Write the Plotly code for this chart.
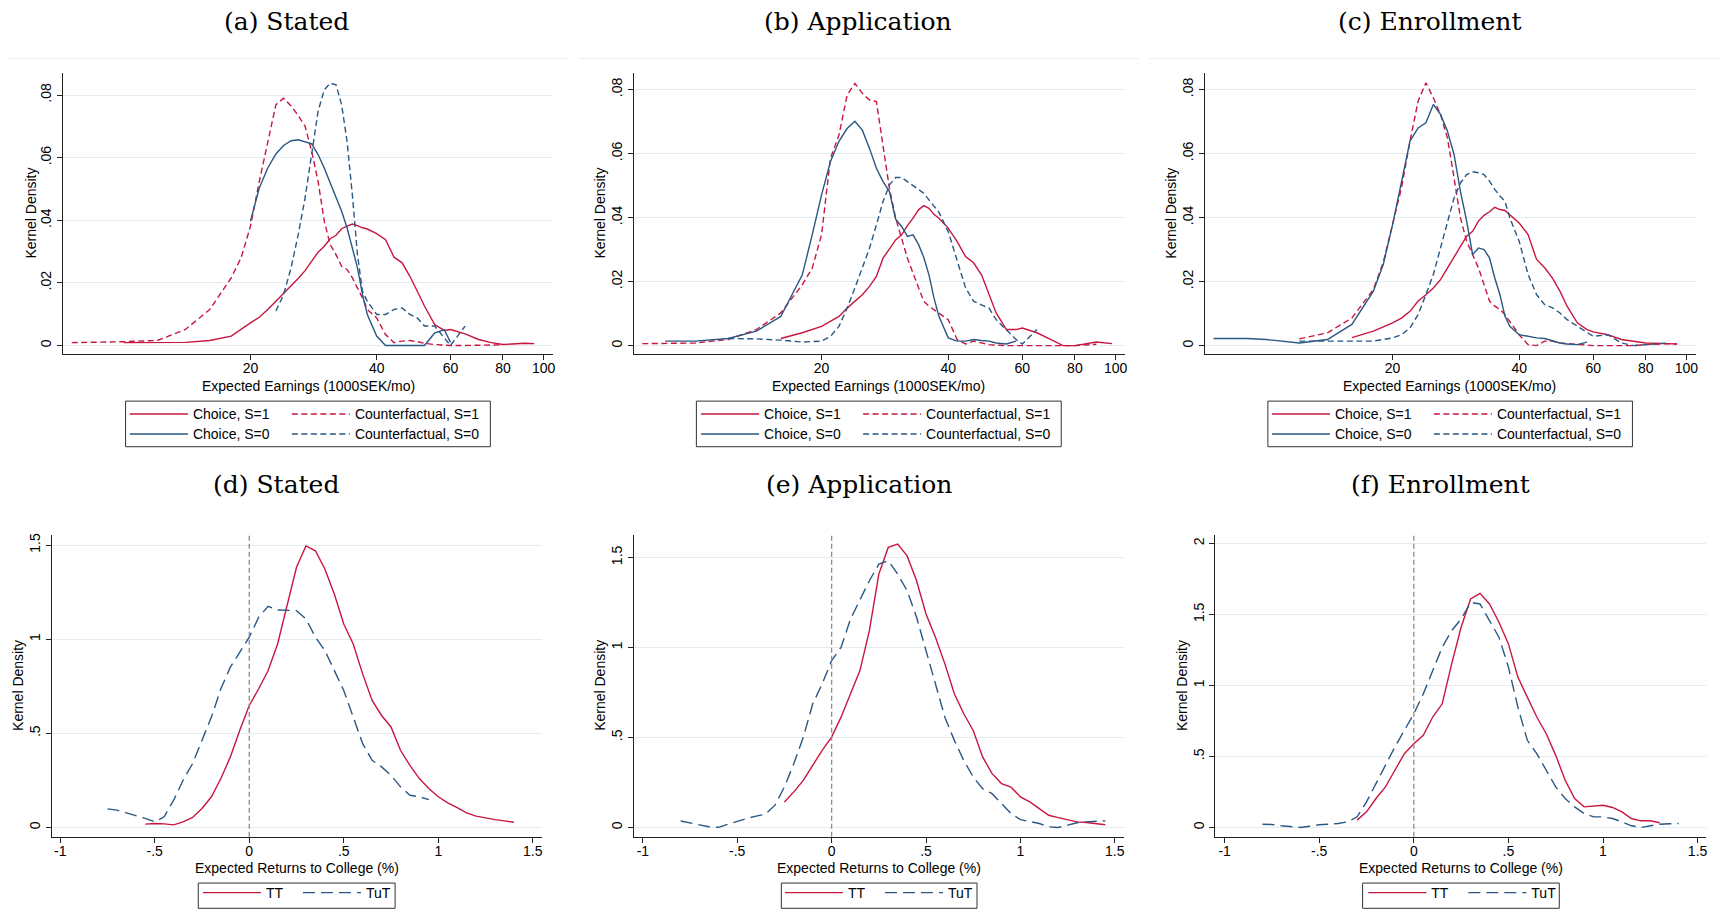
import plotly.graph_objects as go

W, H = 1723, 909
RED = "#C8163F"
BLUE = "#2A5783"
GRID = "#E4ECEE"
AXIS = "#222222"
SANS = "Liberation Sans, Arial, sans-serif"
SERIF = "DejaVu Serif, serif"
N = None

# ---------------- Top row: expected earnings (1000 SEK / month) ----------------
earn_grid = [7.5, 8.5, 9, 10, 12, 14, 16, 18, 19, 20,
             21, 22, 23, 24, 25, 26, 27, 28, 29, 30,
             31, 32, 33, 34, 35, 36, 37, 38,
             40, 42, 44, 46, 48, 50, 52, 55, 58, 60,
             62, 65, 70, 75, 80, 90, 95, 98]

# (a) Stated
a_choice_s1 = [N, N, N, .0009, .0009, .0010, .0016, .0030, N, .0072,
               .0090, .0115, .0141, .0168, .0190, .0214, .0239, .0269, .0298, .0317,
               .0341, .0352, .0373, .0381, .0388, .0383, .0376, .0372,
               .0357, .0338, .0282, .0264, .0221, .0173, .0126, .0067, .0048, .0051,
               N, .0037, .0019, .0009, .0003, .0007, .0006, N]
a_cf_s1 = [.0009, N, .0010, .0012, .0016, .0051, .0115, .0216, .0280, .0380,
           .0524, .0652, .0769, .0790, .0765, .0735, .0700, .0620, .0524, .0397,
           .0322, .0290, .0253, .0243, .0216, .0184, .0152, .0115,
           .0088, .0035, .0009, .0014, .0016, .0012, .0007, .0003, 0, 0,
           N, 0, 0, 0, .0002, N, N, N]
a_choice_s0 = [N, N, N, N, N, N, N, N, N, .0397,
               .0503, .0567, .0612, .0639, .0654, .0657, .0650, .0644, .0610, .0567,
               .0519, .0471, .0429, .0376, .0312, .0248, .0163, .0099,
               .0030, 0, 0, 0, 0, 0, 0, .0040, .0050, .0010,
               N, N, N, N, N, N, N, N]
a_cf_s0 = [N, N, N, N, N, N, N, N, N, N,
           N, N, .0110, .0163, .0248, .0354, .0471, .0620, .0748, .0817,
           .0838, .0833, .0769, .0652, .0482, .0290, .0173, .0141,
           .0099, .0099, .0115, .0120, .0099, .0088, .0062, .0062, .0024, 0,
           N, .0062, N, N, N, N, N, N]

# (b) Application
b_choice_s1 = [N, N, N, N, N, N, .0022, .0040, N, .0060,
               .0076, .0091, .0117, .0138, .0159, .0185, .0216, .0273, .0304, .0330,
               .0346, .0375, .0398, .0424, .0437, .0429, .0410, .0398,
               .0367, .0325, .0278, .0258, .0221, .0159, .0102, .0050, .0050, .0055,
               N, .0040, .0019, 0, 0, .0011, N, .0006]
b_cf_s1 = [.0006, N, .0006, .0008, .0019, .0050, .0102, .0190, .0242, .0346,
           .0585, .0658, .0782, .0819, .0788, .0767, .0762, .0626, .0491, .0398,
           .0336, .0273, .0226, .0180, .0138, .0123, .0112, .0102,
           .0081, .0019, .0005, .0014, .0008, .0003, N, 0, N, 0,
           N, 0, 0, 0, 0, .0004, N, N]
b_choice_s0 = [N, .0014, .0014, .0014, .0022, .0045, .0091, .0221, .0346, .0471,
               .0575, .0638, .0678, .0701, .0673, .0616, .0554, .0512, .0481, .0395,
               .0372, .0341, .0346, .0316, .0275, .0221, .0149, .0092,
               .0024, .0014, .0014, .0019, .0016, .0014, .0008, .0005, .0014, N,
               N, N, N, N, N, N, N, N]
b_cf_s0 = [N, N, N, N, .0022, .0021, .0017, .0011, N, .0014,
           .0029, .0060, .0117, .0180, .0242, .0304, .0377, .0450, .0502, .0525,
           .0525, .0512, .0502, .0489, .0476, .0455, .0434, .0417,
           .0356, .0263, .0180, .0138, .0128, .0117, .0081, .0050, .0019, .0005,
           .0024, .0050, N, N, N, N, N, N]

# (c) Enrollment
c_choice_s1 = [N, N, N, N, N, N, .0025, .0045, N, .0071,
               .0086, .0107, .0139, .0159, .0180, .0206, .0243, .0274, .0310, .0342,
               .0357, .0389, .0407, .0418, .0432, .0425, .0422, .0409,
               .0383, .0347, .0269, .0243, .0211, .0170, .0123, .0071, .0050, .0043,
               N, .0034, .0019, .0014, .0008, .0006, .0005, N]
c_cf_s1 = [N, N, N, N, .0021, .0040, .0086, .0175, .0260, .0380,
           .0493, .0639, .0764, .0821, .0774, .0722, .0649, .0524, .0399, .0326,
           .0284, .0243, .0191, .0139, .0123, .0113, .0097, .0076,
           .0034, .0003, 0, .0014, .0014, .0008, N, .0003, N, 0,
           N, 0, 0, 0, .0003, .0006, .0005, N]
c_choice_s0 = [.0022, N, .0022, .0019, .0008, .0019, .0066, .0170, .0253, .0378,
               .0508, .0639, .0680, .0696, .0753, .0722, .0670, .0597, .0482, .0389,
               .0284, .0305, .0300, .0274, .0211, .0159, .0092, .0060,
               .0034, .0029, .0024, .0022, .0014, .0008, .0005, .0003, .0011, N,
               N, N, N, N, N, N, N, N]
c_cf_s0 = [N, N, N, N, .0014, .0014, .0014, .0014, N, .0024,
           .0034, .0055, .0097, .0159, .0222, .0305, .0389, .0461, .0508, .0534,
           .0543, .0540, .0534, .0514, .0488, .0467, .0451, .0399,
           .0326, .0222, .0159, .0128, .0118, .0102, .0081, .0060, .0040, .0029,
           N, .0034, .0008, 0, .0003, .0008, N, N]

# ---------------- Bottom row: expected returns to college (%) ----------------
ret_grid = [-0.85, -0.8, -0.75, -0.7, -0.65, -0.6, -0.55, -0.5, -0.45, -0.4,
            -0.35, -0.3, -0.25, -0.2, -0.15, -0.1, -0.05, 0.0, 0.05, 0.1,
            0.15, 0.2, 0.25, 0.3, 0.35, 0.4, 0.45, 0.5, 0.55, 0.6,
            0.65, 0.7, 0.75, 0.8, 0.85, 0.9, 0.95, 1.0, 1.05, 1.1,
            1.15, 1.2, 1.25, 1.3, 1.35, 1.4, 1.45]

d_tt = [N, N, N, N, N, N, .018, .021, .019, .014,
        .030, .053, .101, .163, .260, .375, .516, .648, .737, .834,
        .975, 1.187, 1.382, 1.496, 1.470, 1.373, 1.240, 1.081, .975, .816,
        .675, .595, .534, .410, .330, .260, .207, .163, .131, .106,
        .078, .060, .049, .042, .035, .028, N]
d_tut = [N, N, .099, .092, .078, .065, .048, .030, .057, .145,
         .251, .339, .463, .587, .737, .852, .931, 1.011, 1.117, 1.175,
         1.155, 1.152, 1.152, 1.108, 1.011, .940, .834, .728, .587, .445,
         .357, .322, .277, .216, .171, .163, .148, N, N, N,
         N, N, N, N, N, N, N]
e_tt = [N, N, N, N, N, N, N, N, N, N,
        N, N, .142, .198, .262, .345, .429, .502, .613, .743,
        .872, 1.094, 1.408, 1.556, 1.574, 1.509, 1.371, 1.186, 1.057, .909,
        .743, .632, .539, .392, .299, .244, .225, .170, .142, .105,
        .068, .055, .044, .031, .028, .022, .015]
e_tut = [N, .036, .026, .013, .004, .001, .018, .031, .050, .063,
         .074, .124, .225, .355, .502, .687, .798, .927, 1.001, 1.158,
         1.260, 1.371, 1.463, 1.482, 1.408, 1.315, 1.168, .983, .798, .613,
         .484, .373, .281, .216, .188, .133, .078, .044, .031, .022,
         .004, 0, .013, .026, .031, .035, .037]
f_tt = [N, N, N, N, N, N, N, N, N, N,
        N, .052, .110, .204, .286, .403, .520, .590, .649, .778,
        .871, 1.152, 1.410, 1.609, 1.649, 1.574, 1.445, 1.293, 1.059, .918,
        .778, .660, .508, .333, .204, .145, .150, .157, .141, .110,
        .063, .047, .047, .033, N, N, N]
f_tut = [N, .023, .021, .012, .005, 0, .009, .019, .023, .028,
         .040, .075, .180, .309, .438, .567, .684, .801, .941, 1.105,
         1.269, 1.386, 1.468, 1.585, 1.574, 1.457, 1.340, 1.129, .848, .614,
         .520, .403, .286, .204, .145, .098, .075, .075, .063, .040,
         .012, 0, .009, .023, .026, .028, N]

# tick labels
earn_ticks = [20, 40, 60, 80, 100]
earn_ticktext = ["20", "40", "60", "80", "100"]
dens_ticks = [0, 0.02, 0.04, 0.06, 0.08]
dens_ticktext = ["0", ".02", ".04", ".06", ".08"]
ret_ticks = [-1, -0.5, 0, 0.5, 1, 1.5]
ret_ticktext = ["-1", "-.5", "0", ".5", "1", "1.5"]
rdens_ticks = [0, 0.5, 1, 1.5, 2]
rdens_ticktext = ["0", ".5", "1", "1.5", "2"]

top_names = ["Choice, S=1", "Counterfactual, S=1", "Choice, S=0", "Counterfactual, S=0"]
bot_names = ["TT", "TuT"]

# ---------------- layout geometry (pixels of the 1723x909 page) ----------------
TOP = [
    dict(curves=[a_choice_s1, a_cf_s1, a_choice_s0, a_cf_s0], title="(a) Stated",
         dom=(62.9, 554.1), xr=(0.8537, 2.0228), yr=(-0.0028, 0.0871),
         tx=287.1, ylab=31.4, xlab=308.9, legx=193.1, box=(125.8, 491.2), sep=(6.7, 569.6)),
    dict(curves=[b_choice_s1, b_cf_s1, b_choice_s0, b_cf_s0], title="(b) Application",
         dom=(634.7, 1126.7), xr=(0.8543, 2.0216), yr=(-0.0027, 0.0852),
         tx=859.4, ylab=601.4, xlab=880.3, legx=765.3, box=(697.6, 1063.1), sep=(579.2, 1141.5)),
    dict(curves=[c_choice_s1, c_cf_s1, c_choice_s0, c_cf_s0], title="(c) Enrollment",
         dom=(1206.9, 1698.5), xr=(0.8543, 2.0216), yr=(-0.0027, 0.0852),
         tx=1431.9, ylab=1173.5, xlab=1452.3, legx=1337.1, box=(1270.1, 1635.3), sep=(1151.2, 1723)),
]
BOT = [
    dict(curves=[d_tt, d_tut], title="(d) Stated", dom=(51.8, 543.0), xr=(-1.045, 1.549),
         yr=(-0.0498, 1.5546), yt=4, tx=276.5, ylab=18.5, xlab=297.2, legx=266.3, box=(198.6, 395.8)),
    dict(curves=[e_tt, e_tut], title="(e) Application", dom=(634.7, 1126.0), xr=(-1.049, 1.549),
         yr=(-0.052, 1.626), yt=4, tx=860.4, ylab=601.4, xlab=880.3, legx=849.3, box=(782.7, 978.7)),
    dict(curves=[f_tt, f_tut], title="(f) Enrollment", dom=(1217.3, 1708.9), xr=(-1.050, 1.544),
         yr=(-0.066, 2.061), yt=5, tx=1443.0, ylab=1184.6, xlab=1463.7, legx=1433.7, box=(1365.0, 1562.0)),
]

ITEMW = 58
TEXTGAP = ITEMW + 10
LW = 1.4


def fx(p):
    return p / W


def fy(p):
    return 1 - p / H


fig = go.Figure()
layout = dict(width=W, height=H, margin=dict(l=0, r=0, t=0, b=0),
              paper_bgcolor="white", plot_bgcolor="white", showlegend=True)
annotations = []
shapes = []

axis_common = dict(showline=True, linecolor=AXIS, linewidth=1, ticks="outside", ticklen=5,
                   tickcolor=AXIS, tickwidth=1, zeroline=False, fixedrange=True,
                   tickfont=dict(family=SANS, size=14, color="black"))


def add_text(x, y, text, size, family=SANS, angle=0):
    annotations.append(dict(x=fx(x), y=fy(y), xref="paper", yref="paper", text=text,
                            showarrow=False, textangle=angle, xanchor="center", yanchor="middle",
                            borderpad=0, font=dict(family=family, size=size, color="black")))


legend_count = 0


def new_legend(x_text, y_pos, anchor="middle"):
    global legend_count
    legend_count += 1
    name = "legend" if legend_count == 1 else f"legend{legend_count}"
    layout[name] = dict(orientation="h", x=fx(x_text - TEXTGAP), y=fy(y_pos), xanchor="left",
                        yanchor=anchor, xref="paper", yref="paper", bgcolor="rgba(0,0,0,0)",
                        borderwidth=0, itemwidth=ITEMW,
                        font=dict(family=SANS, size=14, color="black"), traceorder="normal",
                        itemclick=False, itemdoubleclick=False)
    return name


# top panels
for i, p in enumerate(TOP):
    k = i + 1
    xa = "x" if k == 1 else f"x{k}"
    ya = "y" if k == 1 else f"y{k}"
    leg1 = new_legend(p["legx"], 413.3)
    leg2 = new_legend(p["legx"], 433.3)
    styles = [(RED, "solid", leg1, 89), (RED, "6px,3.5px", leg1, 150),
              (BLUE, "solid", leg2, 89), (BLUE, "6px,3.5px", leg2, 150)]
    for name, ys, (col, dash, lg, lw) in zip(top_names, p["curves"], styles):
        fig.add_trace(go.Scatter(x=earn_grid, y=ys, mode="lines", name=name, xaxis=xa, yaxis=ya,
                                 connectgaps=True, legend=lg, legendwidth=lw, hoverinfo="skip",
                                 line=dict(color=col, width=LW, dash=dash)))
    layout["xaxis" if k == 1 else f"xaxis{k}"] = dict(
        axis_common, type="log", domain=[fx(p["dom"][0]), fx(p["dom"][1])], range=list(p["xr"]),
        anchor=ya, showgrid=False, tickvals=earn_ticks, ticktext=earn_ticktext, ticklabelstandoff=-4)
    layout["yaxis" if k == 1 else f"yaxis{k}"] = dict(
        axis_common, domain=[fy(353), fy(71)], range=list(p["yr"]), anchor=xa, showgrid=True,
        gridcolor=GRID, gridwidth=1, tickvals=dens_ticks, ticktext=dens_ticktext, tickangle=-90)
    add_text(p["tx"], 20, p["title"], 25, SERIF)
    add_text(p["ylab"], 211.7, "Kernel Density", 14, angle=-90)
    add_text(p["xlab"], 384.5, "Expected Earnings (1000SEK/mo)", 14)
    shapes.append(dict(type="rect", xref="paper", yref="paper", x0=fx(p["box"][0]), x1=fx(p["box"][1]),
                       y0=fy(445.7), y1=fy(400), line=dict(color="#333333", width=1)))
    shapes.append(dict(type="line", xref="paper", yref="paper", x0=fx(p["sep"][0]), x1=fx(p["sep"][1]),
                       y0=fy(56.7), y1=fy(56.7), line=dict(color="#EDEDED", width=1)))

# bottom panels
for i, p in enumerate(BOT):
    k = i + 4
    xa, ya = f"x{k}", f"y{k}"
    lg = new_legend(p["legx"], 909, anchor="bottom")
    styles = [(RED, "solid", 27), (BLUE, "12px,6px", 45)]
    for name, ys, (col, dash, lw) in zip(bot_names, p["curves"], styles):
        fig.add_trace(go.Scatter(x=ret_grid, y=ys, mode="lines", name=name, xaxis=xa, yaxis=ya,
                                 connectgaps=True, legend=lg, legendwidth=lw, hoverinfo="skip",
                                 line=dict(color=col, width=LW, dash=dash)))
    layout[f"xaxis{k}"] = dict(
        axis_common, domain=[fx(p["dom"][0]), fx(p["dom"][1])], range=list(p["xr"]),
        anchor=ya, showgrid=False, tickvals=ret_ticks, ticktext=ret_ticktext, ticklabelstandoff=-4)
    layout[f"yaxis{k}"] = dict(
        axis_common, domain=[fy(836.7), fy(534)], range=list(p["yr"]), anchor=xa, showgrid=True,
        gridcolor=GRID, gridwidth=1, tickvals=rdens_ticks[:p["yt"]], ticktext=rdens_ticktext[:p["yt"]],
        tickangle=-90)
    add_text(p["tx"], 483.3, p["title"], 25, SERIF)
    add_text(p["ylab"], 685, "Kernel Density", 14, angle=-90)
    add_text(p["xlab"], 868, "Expected Returns to College (%)", 14)
    shapes.append(dict(type="rect", xref="paper", yref="paper", x0=fx(p["box"][0]), x1=fx(p["box"][1]),
                       y0=fy(908.3), y1=fy(883), line=dict(color="#333333", width=1)))
    shapes.append(dict(type="line", xref=xa, yref=f"{ya} domain", x0=0, x1=0, y0=0, y1=1,
                       line=dict(color="#8C8C8C", width=1.3, dash="5px,3px")))

layout["annotations"] = annotations
layout["shapes"] = shapes
fig.update_layout(**layout)
fig.write_html("out.html", config={"displayModeBar": False, "staticPlot": True},
               post_script="document.body.style.margin='0px';document.body.style.overflow='hidden';")
